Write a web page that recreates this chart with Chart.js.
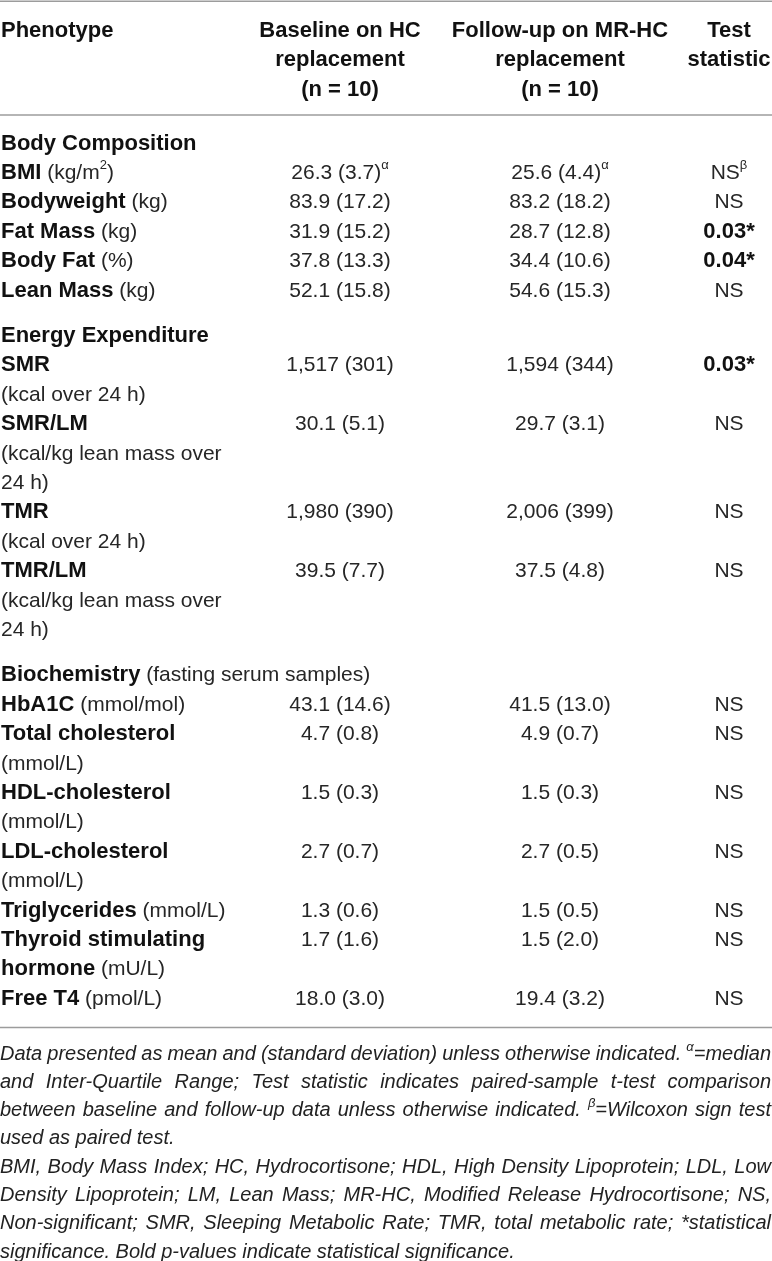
<!DOCTYPE html>
<html>
<head>
<meta charset="utf-8">
<script src="https://cdn.jsdelivr.net/npm/chart.js@4.4.1/dist/chart.umd.min.js"></script>
<style>
    body { margin: 0; background: #fff; }
    canvas { display: block; }
</style>
</head>
<body>
<canvas id="tableChart" width="772" height="1261"></canvas>
<script>
/*--------------------数据 vvv--------------------*/
// ~ 切换粗体, ^ 后一个字符为上标
var headers = [
    ['~Phenotype~'],
    ['~Baseline on HC~', '~replacement~', '~(n = 10)~'],
    ['~Follow-up on MR-HC~', '~replacement~', '~(n = 10)~'],
    ['~Test~', '~statistic~']
];

var sections = ['~Body Composition~', '~Energy Expenditure~', '~Biochemistry~ (fasting serum samples)'];

var phenotypes = [
    ['~BMI~ (kg/m^2)'],
    ['~Bodyweight~ (kg)'],
    ['~Fat Mass~ (kg)'],
    ['~Body Fat~ (%)'],
    ['~Lean Mass~ (kg)'],
    ['~SMR~', '(kcal over 24 h)'],
    ['~SMR/LM~', '(kcal/kg lean mass over', '24 h)'],
    ['~TMR~', '(kcal over 24 h)'],
    ['~TMR/LM~', '(kcal/kg lean mass over', '24 h)'],
    ['~HbA1C~ (mmol/mol)'],
    ['~Total cholesterol~', '(mmol/L)'],
    ['~HDL-cholesterol~', '(mmol/L)'],
    ['~LDL-cholesterol~', '(mmol/L)'],
    ['~Triglycerides~ (mmol/L)'],
    ['~Thyroid stimulating~', '~hormone~ (mU/L)'],
    ['~Free T4~ (pmol/L)']
];

var rowSection = [0, 0, 0, 0, 0, 1, 1, 1, 1, 2, 2, 2, 2, 2, 2, 2];

var baseline = ['26.3 (3.7)^α', '83.9 (17.2)', '31.9 (15.2)', '37.8 (13.3)', '52.1 (15.8)',
    '1,517 (301)', '30.1 (5.1)', '1,980 (390)', '39.5 (7.7)',
    '43.1 (14.6)', '4.7 (0.8)', '1.5 (0.3)', '2.7 (0.7)', '1.3 (0.6)', '1.7 (1.6)', '18.0 (3.0)'];

var followUp = ['25.6 (4.4)^α', '83.2 (18.2)', '28.7 (12.8)', '34.4 (10.6)', '54.6 (15.3)',
    '1,594 (344)', '29.7 (3.1)', '2,006 (399)', '37.5 (4.8)',
    '41.5 (13.0)', '4.9 (0.7)', '1.5 (0.3)', '2.7 (0.5)', '1.5 (0.5)', '1.5 (2.0)', '19.4 (3.2)'];

var testStat = ['NS^β', 'NS', '~0.03*~', '~0.04*~', 'NS',
    '~0.03*~', 'NS', 'NS', 'NS',
    'NS', 'NS', 'NS', 'NS', 'NS', 'NS', 'NS'];

var notes = [
    ['Data presented as mean and (standard deviation) unless otherwise indicated. ^α=median',
        'and Inter-Quartile Range; Test statistic indicates paired-sample t-test comparison',
        'between baseline and follow-up data unless otherwise indicated. ^β=Wilcoxon sign test',
        'used as paired test.'],
    ['BMI, Body Mass Index; HC, Hydrocortisone; HDL, High Density Lipoprotein; LDL, Low',
        'Density Lipoprotein; LM, Lean Mass; MR-HC, Modified Release Hydrocortisone; NS,',
        'Non-significant; SMR, Sleeping Metabolic Rate; TMR, total metabolic rate; *statistical',
        'significance. Bold p-values indicate statistical significance.']
];
/*--------------------数据 ^^^--------------------*/

/*--------------------版式 vvv--------------------*/
var W = 772, H = 1261;
var LINE = 29.4;          // 一行高度(px), y轴单位
var SECTION_GAP = 0.545;  // 分组间距(行)
var NOTE_LINE = 0.963;    // 脚注行距(行)
var colX = [1, 340, 560, 729];
var colAlign = ['left', 'center', 'center', 'center'];
var FONT = '"Liberation Sans", Arial, Helvetica, sans-serif';
var RULE_COLOR = '#9c9c9c';

/**
 * 解析 ~粗体~ 和 ^上标
 * @param str
 * @returns {Array}
 */
function parseRuns(str) {
    var runs = [], bold = false, buf = '';
    for (var i = 0; i < str.length; i++) {
        var c = str.charAt(i);
        if (c === '~') {
            if (buf) runs.push({t: buf, bold: bold, sup: false});
            buf = '';
            bold = !bold;
        } else if (c === '^') {
            if (buf) runs.push({t: buf, bold: bold, sup: false});
            buf = '';
            runs.push({t: str.charAt(i + 1), bold: bold, sup: true});
            i++;
        } else {
            buf += c;
        }
    }
    if (buf) runs.push({t: buf, bold: bold, sup: false});
    return runs;
}

function runFont(run, style) {
    var size, prefix = '';
    if (style === 'note') {
        size = 20;
        prefix = 'italic ';
    } else {
        size = run.bold ? 22 : 21;
        prefix = run.bold ? 'bold ' : '';
    }
    if (run.sup) size = Math.round(size * 0.64);
    return {font: prefix + size + 'px ' + FONT, size: size};
}

function runsWidth(ctx, runs, style) {
    var w = 0;
    for (var i = 0; i < runs.length; i++) {
        ctx.font = runFont(runs[i], style).font;
        w += ctx.measureText(runs[i].t).width;
    }
    return w;
}

function drawRuns(ctx, runs, x, baseY, style) {
    for (var i = 0; i < runs.length; i++) {
        var f = runFont(runs[i], style);
        ctx.font = f.font;
        if (style === 'note') {
            ctx.fillStyle = '#222';
        } else {
            ctx.fillStyle = runs[i].bold ? '#111' : '#262626';
        }
        var y = runs[i].sup ? baseY - (style === 'note' ? 9 : 10) : baseY;
        ctx.fillText(runs[i].t, x, y);
        x += ctx.measureText(runs[i].t).width;
    }
}

/**
 * 两端对齐绘制一行脚注
 */
function drawJustified(ctx, str, x, baseY, width, justify) {
    var words = str.split(' ').map(parseRuns);
    var widths = words.map(function (r) { return runsWidth(ctx, r, 'note'); });
    var total = widths.reduce(function (a, b) { return a + b; }, 0);
    ctx.font = 'italic 20px ' + FONT;
    var space = ctx.measureText(' ').width;
    var scale = 1;
    if (justify && words.length > 1) {
        space = (width - total) / (words.length - 1);
        if (space < 2) {
            // 太宽时压缩字形
            space = 2;
            scale = width / (total + space * (words.length - 1));
        }
    }
    ctx.save();
    ctx.translate(x, 0);
    ctx.scale(scale, 1);
    var cx = 0;
    for (var i = 0; i < words.length; i++) {
        drawRuns(ctx, words[i], cx, baseY, 'note');
        cx += widths[i] + space;
    }
    ctx.restore();
}
/*--------------------版式 ^^^--------------------*/

/*--------------------生成单元格 vvv--------------------*/
var cells = [[], [], [], []];   // 每列的单元格 {x, y, text}
var noteCells = [];
var rules = [];

// 表头
for (var c = 0; c < headers.length; c++) {
    for (var k = 0; k < headers[c].length; k++) {
        cells[c].push({x: colX[c], y: 1 + k, text: headers[c][k]});
    }
}
rules.push(0.04);
rules.push(3.91);

// 表体
var yLine = 4.83, lastSection = -1;
for (var r = 0; r < phenotypes.length; r++) {
    if (rowSection[r] !== lastSection) {
        if (lastSection !== -1) yLine += SECTION_GAP;
        cells[0].push({x: colX[0], y: yLine, text: sections[rowSection[r]]});
        yLine += 1;
        lastSection = rowSection[r];
    }
    cells[1].push({x: colX[1], y: yLine, text: baseline[r]});
    cells[2].push({x: colX[2], y: yLine, text: followUp[r]});
    cells[3].push({x: colX[3], y: yLine, text: testStat[r]});
    for (var p = 0; p < phenotypes[r].length; p++) {
        cells[0].push({x: colX[0], y: yLine, text: phenotypes[r][p]});
        yLine += 1;
    }
}
var bottomRule = yLine - 1 + 1.03;
rules.push(bottomRule);

// 脚注
var yNote = bottomRule + 0.85;
for (var n = 0; n < notes.length; n++) {
    for (var m = 0; m < notes[n].length; m++) {
        noteCells.push({x: 0, y: yNote, text: notes[n][m], justify: m < notes[n].length - 1});
        yNote += NOTE_LINE;
    }
}
/*--------------------生成单元格 ^^^--------------------*/

var datasets = [];
for (var d = 0; d < cells.length; d++) {
    datasets.push({
        data: cells[d],
        cellAlign: colAlign[d],
        cellStyle: 'table',
        pointRadius: 0,
        showLine: false
    });
}
datasets.push({
    data: noteCells,
    cellStyle: 'note',
    pointRadius: 0,
    showLine: false
});
for (var q = 0; q < rules.length; q++) {
    datasets.push({
        data: [{x: 0, y: rules[q]}, {x: W, y: rules[q]}],
        showLine: true,
        borderColor: RULE_COLOR,
        borderWidth: 1.5,
        pointRadius: 0
    });
}

// 文字插件: 按scale算出的点位置绘制单元格文字
var cellTextPlugin = {
    id: 'cellText',
    afterDatasetsDraw: function (chart) {
        var ctx = chart.ctx;
        var xs = chart.scales.x;
        ctx.save();
        ctx.textBaseline = 'alphabetic';
        ctx.textAlign = 'left';
        chart.data.datasets.forEach(function (ds, i) {
            if (!ds.cellStyle) return;
            var meta = chart.getDatasetMeta(i);
            meta.data.forEach(function (pt, j) {
                var cell = ds.data[j];
                if (ds.cellStyle === 'note') {
                    var width = xs.getPixelForValue(W - 1) - pt.x;
                    drawJustified(ctx, cell.text, pt.x, pt.y + 7, width, cell.justify);
                } else {
                    var runs = parseRuns(cell.text);
                    var x = pt.x;
                    if (ds.cellAlign === 'center') x -= runsWidth(ctx, runs, 'table') / 2;
                    drawRuns(ctx, runs, x, pt.y + 7.5, 'table');
                }
            });
        });
        ctx.restore();
    }
};

var chart = new Chart(document.getElementById('tableChart').getContext('2d'), {
    type: 'scatter',
    data: {datasets: datasets},
    options: {
        responsive: false,
        animation: false,
        events: [],
        layout: {padding: 0},
        plugins: {legend: {display: false}, tooltip: {enabled: false}},
        scales: {
            x: {type: 'linear', min: 0, max: W, display: false},
            y: {type: 'linear', min: 0, max: H / LINE, reverse: true, display: false}
        }
    },
    plugins: [cellTextPlugin]
});
</script>
</body>
</html>
